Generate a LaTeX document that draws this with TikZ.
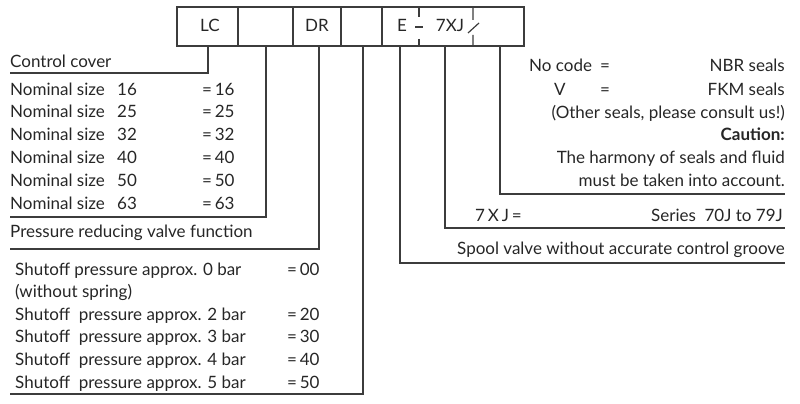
\documentclass[tikz,border=0pt]{standalone}
\usepackage{fontspec}
\setmainfont{Lato}
\definecolor{linec}{HTML}{3C3C3C}
\definecolor{txtc}{HTML}{262626}
\begin{document}
\begin{tikzpicture}[x=1pt,y=-1pt,
  ln/.style={line width=1.2pt, draw=linec},
  lbl/.style={inner sep=0pt, anchor=base west, text=txtc, font=\fontsize{17}{20}\selectfont},
  rlbl/.style={lbl, anchor=base east},
  clbl/.style={lbl, anchor=base},
  blbl/.style={rlbl, font=\fontsize{17}{20}\selectfont\bfseries}]
\useasboundingbox (0,0) rectangle (800,404);
% header
\draw[ln] (177,7) rectangle (524,46);
\foreach \x in {238,293,341,382} \draw[ln] (\x,7) -- (\x,46);
\draw[ln] (419,7) -- (419,17) (419,39) -- (419,46) (415,27) -- (423,27);
\draw[ln] (473,7) -- (473,20) (473,35) -- (473,46) (468,33) -- (479,23);
\node[clbl] (lc) at (210,32) {LC};
\node[clbl] (dr) at (317,32) {DR};
\node[clbl] (e) at (402,32) {E};
\node[clbl] (xj) at (450,32) {7XJ};
% header taps
\foreach \n/\x in {h1/208,h2/266,h3/319,h4/363,h5/400,h6/445,h7/500}
  \coordinate (\n) at (\x,46);
\coordinate (e1) at (10,73);
\coordinate (e2) at (10,217);
\coordinate (e3) at (10,249);
\coordinate (e4) at (10,394);
\coordinate (e5) at (785,263);
\coordinate (e6) at (785,228);
\coordinate (e7) at (785,194);
\draw[ln] (h1) |- (e1);
\draw[ln] (h2) |- (e2);
\draw[ln] (h3) |- (e3);
\draw[ln] (h4) |- (e4);
\draw[ln] (h5) |- (e5);
\draw[ln] (h6) |- (e6);
\draw[ln] (h7) |- (e7);
% left texts
\node[lbl] (cc) at (10,67.5) {Control cover};
\foreach \i/\s in {0/16,1/25,2/32,3/40,4/50,5/63}{
  \node[lbl] (ns\i) at (10,95+22.8*\i) {Nominal size};
  \node[lbl] (nv\i) at (117,95+22.8*\i) {\s};
  \node[lbl] (nc\i) at (202,95+22.8*\i) {=\,\s};
}
\node[lbl] (prv) at (10,237) {Pressure reducing valve function};
\node[lbl] (s0) at (15,275) {Shutoff pressure approx. 0 bar};
\node[lbl] (s0c) at (287,275) {=\,00};
\node[lbl] (s0b) at (15,297.6) {(without spring)};
\foreach \i/\b in {1/2,2/3,3/4,4/5}{
  \node[lbl] (s\i) at (15,297.6+22.6*\i) {Shutoff\ \ pressure approx. \b\ bar};
  \node[lbl] (s\i c) at (287,297.6+22.6*\i) {=\,\b0};
}
% right texts
\node[lbl] (nc) at (529,71.7) {No code};
\node[lbl] (ne) at (600,71.7) {=};
\node[rlbl] (nbr) at (785,71.7) {NBR seals};
\node[lbl] (v) at (554,95) {V};
\node[lbl] (ve) at (600,95) {=};
\node[rlbl] (fkm) at (785,95) {FKM seals};
\node[rlbl] (oth) at (785,118) {(Other seals, please consult us!)};
\node[blbl] (cau) at (785,140.7) {Caution:};
\node[rlbl] (har) at (785,163.3) {The harmony of seals and fluid};
\node[rlbl] (acc) at (785,186) {must be taken into account.};
\node[lbl] (xjc) at (475,221.7) {7\,X\,J\,=};
\node[rlbl] (ser) at (783,221.7) {Series\ \ 70J to 79J};
\node[rlbl] (spo) at (785,254.5) {Spool valve without accurate control groove};
\end{tikzpicture}
\end{document}
